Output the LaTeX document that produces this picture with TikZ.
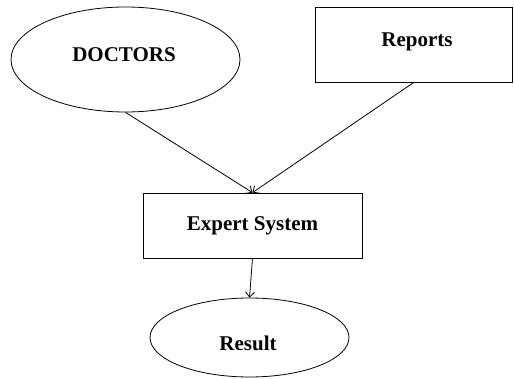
\documentclass[tikz,border=0pt]{standalone}
\usepackage{fontspec}
\setmainfont{Liberation Serif}
\usepackage{tikz}
\usetikzlibrary{arrows.meta, shapes.geometric}
\tikzset{>={Straight Barb[length=5pt,width=9pt]}}
\tikzset{
  oval/.style={draw, ellipse, line width=0.8pt, inner sep=0pt},
  box/.style={draw, rectangle, line width=0.8pt, inner sep=0pt},
  lbl/.style={font=\fontsize{21}{25}\selectfont\bfseries}
}

\begin{document}
\begin{tikzpicture}[x=1pt, y=-1pt]
      \useasboundingbox (0, 0) rectangle (514, 379);
      \node[oval, lbl, minimum width=229pt, minimum height=105pt] (doctors) at (125.5, 59.5) { };
      \node[lbl] (doctorstext) at (124, 55) {DOCTORS};
      \node[box, minimum width=197pt, minimum height=75pt] (reports) at (413.8, 44.5) { };
      \node[lbl] (reportstext) at (417, 42) {Reports};
      \node[box, lbl, minimum width=219pt, minimum height=65pt] (expert) at (252.5, 225.5) {Expert System};
      \node[oval, minimum width=199pt, minimum height=79pt] (result) at (249.5, 337.5) { };
      \node[lbl] (resulttext) at (248, 343) {Result};
      \draw[->, line width=0.8pt] (doctors.south) to (expert.north);
      \draw[->, line width=0.8pt] (reports.south) to (expert.north);
      \draw[->, line width=0.8pt] (expert.south) to (result.north);
    \end{tikzpicture}
\end{document}
